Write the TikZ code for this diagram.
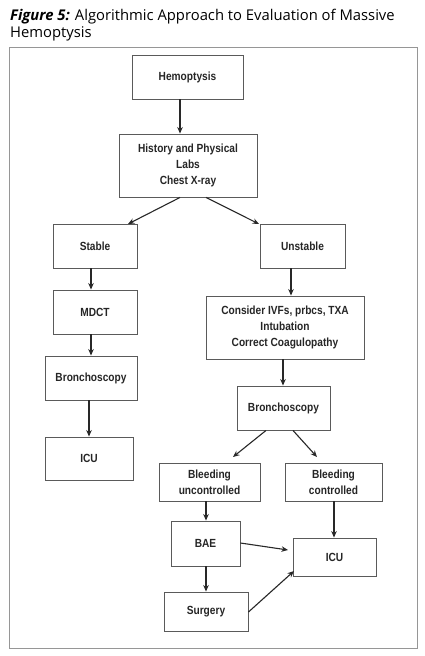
\documentclass[tikz,border=0pt]{standalone}
\usepackage{fontspec}
\setmainfont{Open Sans}
\newfontfamily\boxfont[FakeStretch=0.86]{Liberation Sans}
\usetikzlibrary{arrows.meta}
\definecolor{boxline}{RGB}{90,90,90}
\definecolor{frameline}{RGB}{150,150,150}
\definecolor{arrowc}{RGB}{40,40,40}
\begin{document}
\begin{tikzpicture}[x=1pt,y=-1pt,
  bx/.style={draw=boxline,line width=0.9pt,align=center,font=\boxfont\bfseries\fontsize{11.8}{15.7}\selectfont,text=black!85,inner sep=0pt},
  arr/.style={draw=arrowc,line width=1.1pt,-{Stealth[length=6.5pt,width=5.5pt]}}]
\useasboundingbox (0,0) rectangle (425,656);
\fill[white] (0,0) rectangle (425,656);
\node[anchor=north west,align=left,inner sep=0pt,font=\fontsize{14.8}{17.5}\selectfont] (title) at (10,8.5)
  {{\bfseries\itshape Figure 5:} Algorithmic Approach to Evaluation of Massive\\Hemoptysis};
\draw[frameline,line width=1pt] (9,47) rectangle (417,648);
\node[bx,minimum width=111,minimum height=44] (hemo) at (187.5,77) {Hemoptysis};
\node[bx,minimum width=138,minimum height=63] (hist) at (188,165.5) {History and Physical\\Labs\\Chest X-ray};
\node[bx,minimum width=84,minimum height=44] (stab) at (95,246) {Stable};
\node[bx,minimum width=85,minimum height=44] (unst) at (302.5,246) {Unstable};
\node[bx,minimum width=84,minimum height=44] (mdct) at (95,312) {MDCT};
\node[bx,minimum width=92,minimum height=44] (brl) at (91,378) {Bronchoscopy};
\node[bx,minimum width=88,minimum height=43] (icul) at (89,458.5) {ICU};
\node[bx,minimum width=158,minimum height=63] (cons) at (285,327.5) {Consider IVFs, prbcs, TXA\\Intubation\\Correct Coagulopathy};
\node[bx,minimum width=93,minimum height=44] (brr) at (283.5,408) {Bronchoscopy};
\node[bx,minimum width=101,minimum height=38] (unc) at (209.5,482) {Bleeding\\uncontrolled};
\node[bx,minimum width=97,minimum height=38] (ctl) at (333.5,482) {Bleeding\\controlled};
\node[bx,minimum width=69,minimum height=45] (bae) at (205.5,543.5) {BAE};
\node[bx,minimum width=83,minimum height=38] (icur) at (334.5,557) {ICU};
\node[bx,minimum width=84,minimum height=39] (surg) at (206,611.5) {Surgery};
\draw[arr] (hemo.south -| 180,0) -- (hist.north -| 180,0);
\draw[arr] (hist.south -| 180,0) -- (128,224);
\draw[arr] (hist.south -| 206,0) -- (259,224);
\draw[arr] (stab.south -| 91,0) -- (mdct.north -| 91,0);
\draw[arr] (mdct.south -| 91,0) -- (brl.north -| 91,0);
\draw[arr] (brl.south -| 89,0) -- (icul.north -| 89,0);
\draw[arr] (unst.south -| 291,0) -- (cons.north -| 291,0);
\draw[arr] (cons.south -| 283,0) -- (brr.north -| 283,0);
\draw[arr] (brr.south -| 266,0) -- (233,457);
\draw[arr] (brr.south -| 293,0) -- (317,457);
\draw[arr] (unc.south -| 206,0) -- (bae.north -| 206,0);
\draw[arr] (ctl.south -| 334,0) -- (icur.north -| 334,0);
\draw[arr] (bae.east |- 0,543) -- (288,550);
\draw[arr] (bae.south -| 206,0) -- (surg.north -| 206,0);
\draw[arr] (surg.east |- 0,612) -- (294,571);
\end{tikzpicture}
\end{document}
